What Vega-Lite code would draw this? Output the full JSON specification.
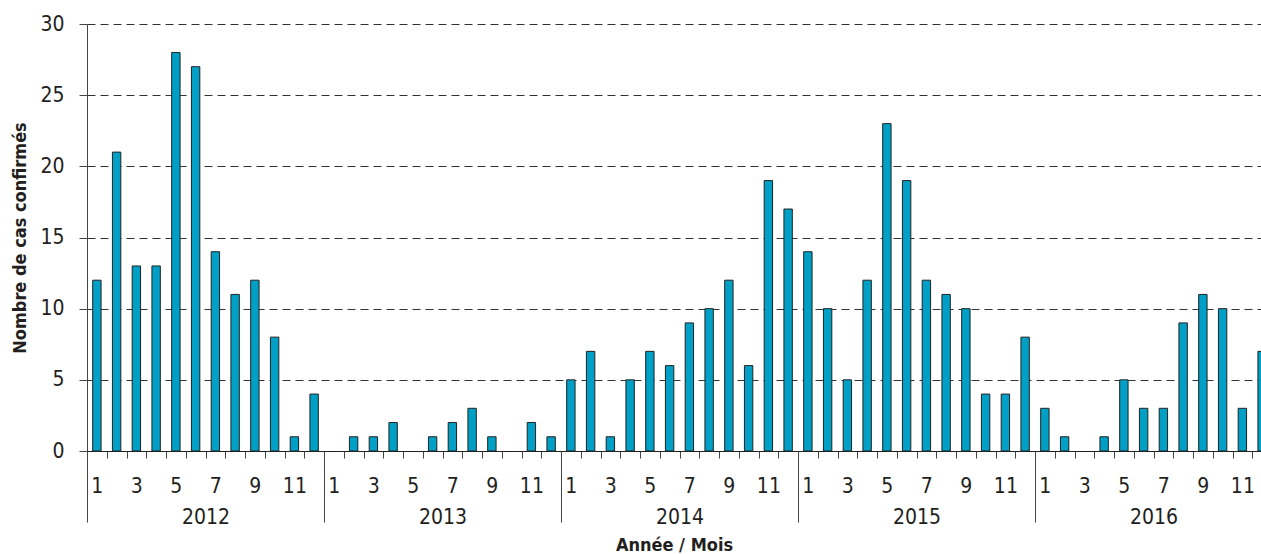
{
  "$schema": "https://vega.github.io/schema/vega-lite/v6.json",
  "autosize": "none",
  "width": 1174,
  "height": 427,
  "padding": {"left": 87, "top": 24, "right": 0, "bottom": 103},
  "background": "white",
  "config": {
    "view": {"stroke": null},
    "font": "DejaVu Sans Condensed, Liberation Sans, sans-serif",
    "axis": {
      "labelFont": "DejaVu Sans Condensed, Liberation Sans, sans-serif",
      "titleFont": "DejaVu Sans Condensed, Liberation Sans, sans-serif",
      "labelColor": "#231f20",
      "titleColor": "#231f20",
      "labelFontSize": 21,
      "titleFontSize": 18,
      "titleFontWeight": "bold"
    }
  },
  "data": {
    "values": [
      {"n": 0, "year": 2012, "month": 1, "cases": 12},
      {"n": 1, "year": 2012, "month": 2, "cases": 21},
      {"n": 2, "year": 2012, "month": 3, "cases": 13},
      {"n": 3, "year": 2012, "month": 4, "cases": 13},
      {"n": 4, "year": 2012, "month": 5, "cases": 28},
      {"n": 5, "year": 2012, "month": 6, "cases": 27},
      {"n": 6, "year": 2012, "month": 7, "cases": 14},
      {"n": 7, "year": 2012, "month": 8, "cases": 11},
      {"n": 8, "year": 2012, "month": 9, "cases": 12},
      {"n": 9, "year": 2012, "month": 10, "cases": 8},
      {"n": 10, "year": 2012, "month": 11, "cases": 1},
      {"n": 11, "year": 2012, "month": 12, "cases": 4},
      {"n": 12, "year": 2013, "month": 1, "cases": 0},
      {"n": 13, "year": 2013, "month": 2, "cases": 1},
      {"n": 14, "year": 2013, "month": 3, "cases": 1},
      {"n": 15, "year": 2013, "month": 4, "cases": 2},
      {"n": 16, "year": 2013, "month": 5, "cases": 0},
      {"n": 17, "year": 2013, "month": 6, "cases": 1},
      {"n": 18, "year": 2013, "month": 7, "cases": 2},
      {"n": 19, "year": 2013, "month": 8, "cases": 3},
      {"n": 20, "year": 2013, "month": 9, "cases": 1},
      {"n": 21, "year": 2013, "month": 10, "cases": 0},
      {"n": 22, "year": 2013, "month": 11, "cases": 2},
      {"n": 23, "year": 2013, "month": 12, "cases": 1},
      {"n": 24, "year": 2014, "month": 1, "cases": 5},
      {"n": 25, "year": 2014, "month": 2, "cases": 7},
      {"n": 26, "year": 2014, "month": 3, "cases": 1},
      {"n": 27, "year": 2014, "month": 4, "cases": 5},
      {"n": 28, "year": 2014, "month": 5, "cases": 7},
      {"n": 29, "year": 2014, "month": 6, "cases": 6},
      {"n": 30, "year": 2014, "month": 7, "cases": 9},
      {"n": 31, "year": 2014, "month": 8, "cases": 10},
      {"n": 32, "year": 2014, "month": 9, "cases": 12},
      {"n": 33, "year": 2014, "month": 10, "cases": 6},
      {"n": 34, "year": 2014, "month": 11, "cases": 19},
      {"n": 35, "year": 2014, "month": 12, "cases": 17},
      {"n": 36, "year": 2015, "month": 1, "cases": 14},
      {"n": 37, "year": 2015, "month": 2, "cases": 10},
      {"n": 38, "year": 2015, "month": 3, "cases": 5},
      {"n": 39, "year": 2015, "month": 4, "cases": 12},
      {"n": 40, "year": 2015, "month": 5, "cases": 23},
      {"n": 41, "year": 2015, "month": 6, "cases": 19},
      {"n": 42, "year": 2015, "month": 7, "cases": 12},
      {"n": 43, "year": 2015, "month": 8, "cases": 11},
      {"n": 44, "year": 2015, "month": 9, "cases": 10},
      {"n": 45, "year": 2015, "month": 10, "cases": 4},
      {"n": 46, "year": 2015, "month": 11, "cases": 4},
      {"n": 47, "year": 2015, "month": 12, "cases": 8},
      {"n": 48, "year": 2016, "month": 1, "cases": 3},
      {"n": 49, "year": 2016, "month": 2, "cases": 1},
      {"n": 50, "year": 2016, "month": 3, "cases": 0},
      {"n": 51, "year": 2016, "month": 4, "cases": 1},
      {"n": 52, "year": 2016, "month": 5, "cases": 5},
      {"n": 53, "year": 2016, "month": 6, "cases": 3},
      {"n": 54, "year": 2016, "month": 7, "cases": 3},
      {"n": 55, "year": 2016, "month": 8, "cases": 9},
      {"n": 56, "year": 2016, "month": 9, "cases": 11},
      {"n": 57, "year": 2016, "month": 10, "cases": 10},
      {"n": 58, "year": 2016, "month": 11, "cases": 3},
      {"n": 59, "year": 2016, "month": 12, "cases": 7}
    ]
  },
  "layer": [
    {
      "transform": [{"filter": "datum.cases > 0"}],
      "mark": {"type": "bar", "orient": "vertical", "width": 8.4, "clip": true, "fill": "#00a0c6", "stroke": "#222222", "strokeWidth": 1},
      "encoding": {
        "x": {
          "field": "n",
          "type": "quantitative",
          "scale": {"domain": [-0.5, 58.943], "nice": false, "zero": false, "padding": 0},
          "axis": {
            "title": null,
            "grid": false,
            "values": [-0.5, 0.5, 1.5, 2.5, 3.5, 4.5, 5.5, 6.5, 7.5, 8.5, 9.5, 10.5, 11.5, 12.5, 13.5, 14.5, 15.5, 16.5, 17.5, 18.5, 19.5, 20.5, 21.5, 22.5, 23.5, 24.5, 25.5, 26.5, 27.5, 28.5, 29.5, 30.5, 31.5, 32.5, 33.5, 34.5, 35.5, 36.5, 37.5, 38.5, 39.5, 40.5, 41.5, 42.5, 43.5, 44.5, 45.5, 46.5, 47.5, 48.5, 49.5, 50.5, 51.5, 52.5, 53.5, 54.5, 55.5, 56.5, 57.5, 58.5],
            "labelExpr": "((datum.value + 0.5) % 12 + 1) % 2 == 1 ? '' + ((datum.value + 0.5) % 12 + 1) : ''",
            "labelOffset": 9.875,
            "labelFlush": false,
            "labelBound": false,
            "labelOverlap": false,
            "labelAngle": 0,
            "tickSize": 7,
            "labelPadding": 17,
            "domainColor": "#222222",
            "tickColor": "#444444"
          }
        },
        "y": {
          "field": "cases",
          "type": "quantitative",
          "scale": {"domain": [0, 30]},
          "axis": {
            "values": [0, 5, 10, 15, 20, 25, 30],
            "grid": true,
            "gridDash": [8, 5],
            "gridColor": "#333333",
            "tickSize": 8,
            "tickColor": "#444444",
            "labelPadding": 15,
            "domainColor": "#444444",
            "title": "Nombre de cas confirmés",
            "titleX": -67,
            "titleY": 213.5,
            "titleAngle": -90,
            "titleAlign": "center",
            "titleBaseline": "middle"
          }
        }
      }
    },
    {
      "mark": {"type": "tick", "opacity": 0},
      "encoding": {
        "x": {
          "field": "n",
          "type": "quantitative",
          "scale": {"domain": [-0.5, 58.943], "nice": false, "zero": false, "padding": 0},
          "axis": {
            "orient": "bottom",
            "grid": false,
            "domain": false,
            "values": [-0.5, 5.5, 11.5, 17.5, 23.5, 29.5, 35.5, 41.5, 47.5, 53.5],
            "labelExpr": "datum.value == 5.5 ? '2012' : datum.value == 17.5 ? '2013' : datum.value == 29.5 ? '2014' : datum.value == 41.5 ? '2015' : datum.value == 53.5 ? '2016' : ''",
            "tickOpacity": {"condition": {"test": "(datum.value + 0.5) % 12 == 0", "value": 1}, "value": 0},
            "labelFlush": false,
            "labelBound": false,
            "labelOverlap": false,
            "labelAngle": 0,
            "tickSize": 71,
            "tickColor": "#444444",
            "labelPadding": -16,
            "title": "Année / Mois",
            "titleX": 587,
            "titleY": 99,
            "titleAlign": "center",
            "titleBaseline": "alphabetic"
          }
        }
      }
    }
  ],
  "resolve": {"scale": {"x": "independent"}, "axis": {"x": "independent"}}
}
